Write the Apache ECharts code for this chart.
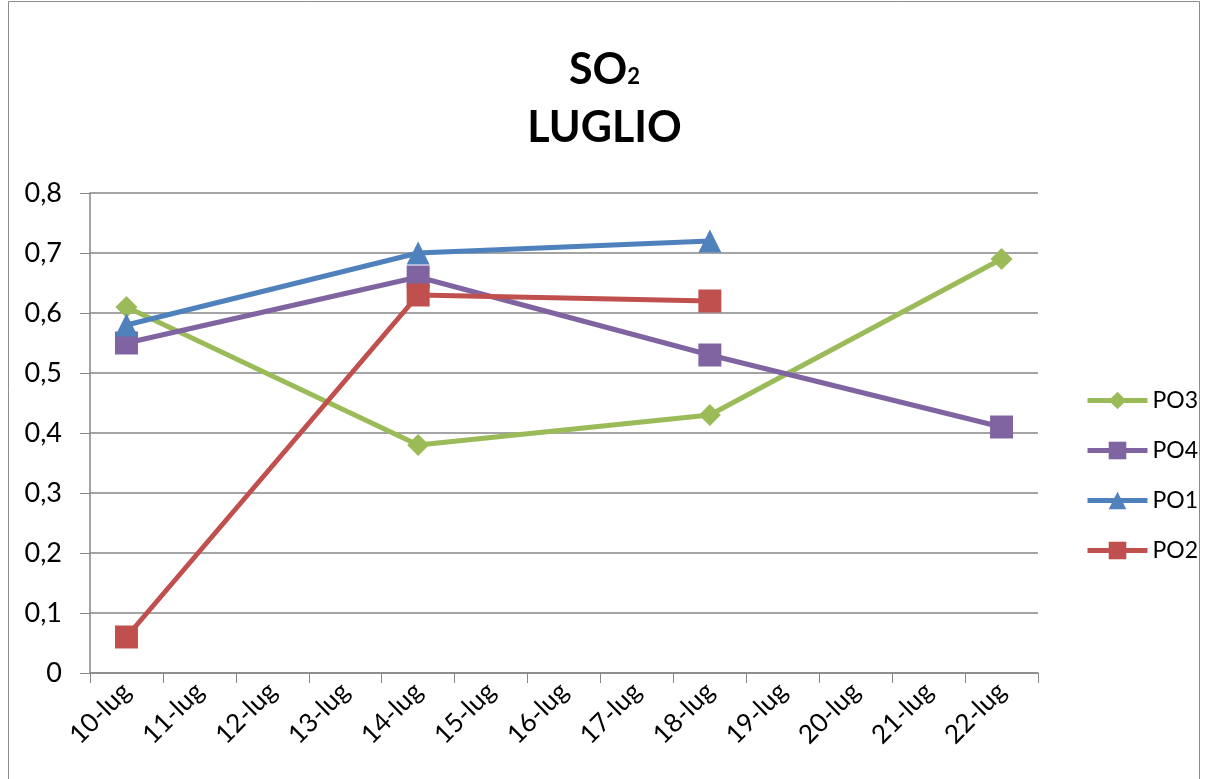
<!DOCTYPE html>
<html>
<head>
<meta charset="utf-8">
<style>
    html, body { margin: 0; padding: 0; background: #fff; }
    #chart { width: 1209px; height: 779px; }
</style>
<script src="https://cdn.jsdelivr.net/npm/echarts@6/dist/echarts.min.js"></script>
</head>
<body>
<div id="chart"></div>
<script>
// dati
const days = ["10-lug", "11-lug", "12-lug", "13-lug", "14-lug", "15-lug", "16-lug",
    "17-lug", "18-lug", "19-lug", "20-lug", "21-lug", "22-lug"];
const po3 = [0.61, null, null, null, 0.38, null, null, null, 0.43, null, null, null, 0.69];
const po4 = [0.55, null, null, null, 0.66, null, null, null, 0.53, null, null, null, 0.41];
const po1 = [0.58, null, null, null, 0.70, null, null, null, 0.72, null, null, null, null];
const po2 = [0.06, null, null, null, 0.63, null, null, null, 0.62, null, null, null, null];

const font = "Lato";

function line(name, data, color, symbol, size) {
    return {
        name: name,
        type: "line",
        data: data,
        connectNulls: true,
        symbol: symbol,
        symbolSize: size,
        lineStyle: { color: color, width: 5 },
        itemStyle: { color: color },
        emphasis: { disabled: true },
        animation: false,
    };
}

const chart = echarts.init(document.getElementById("chart"));
chart.setOption({
    backgroundColor: "#fff",
    graphic: [{
        type: "rect",
        shape: { x: 8.5, y: 1.5, width: 1191, height: 790 },
        style: { fill: "none", stroke: "#8c8c8c", lineWidth: 1 },
        silent: true,
    }],
    title: {
        text: "{a|SO}{b|2}\n{a|LUGLIO}",
        left: "center",
        top: 36,
        textStyle: {
            rich: {
                a: { fontFamily: font, fontWeight: "bold", fontSize: 43, color: "#000", lineHeight: 58 },
                b: { fontFamily: font, fontWeight: "bold", fontSize: 22, color: "#000", verticalAlign: "middle", lineHeight: 58, padding: [14, 0, 0, 0] },
            },
        },
    },
    legend: {
        orient: "vertical",
        left: 1080,
        top: 384,
        itemWidth: 60,
        itemHeight: 22,
        itemGap: 27,
        lineStyle: { width: 5 },
        textStyle: { fontFamily: font, fontSize: 23, color: "#000" },
        data: ["PO3", "PO4", "PO1", "PO2"],
    },
    grid: {
        left: 90,
        right: 171,
        top: 193,
        bottom: 106,
    },
    xAxis: {
        type: "category",
        data: days,
        boundaryGap: true,
        axisLine: { lineStyle: { color: "#868686", width: 1.5 } },
        axisTick: { show: true, interval: 0, length: 10, lineStyle: { color: "#868686" } },
        axisLabel: {
            interval: 0,
            rotate: 45,
            fontFamily: font,
            fontSize: 26,
            color: "#000",
            margin: 14,
        },
    },
    yAxis: {
        type: "value",
        min: 0,
        max: 0.8,
        interval: 0.1,
        axisLine: { show: true, lineStyle: { color: "#868686", width: 1.5 } },
        axisTick: { show: true, length: 10, lineStyle: { color: "#868686" } },
        splitLine: { lineStyle: { color: "#868686", width: 1.5 } },
        axisLabel: {
            fontFamily: font,
            fontSize: 27,
            color: "#000",
            margin: 28,
            formatter: function (v) {
                return v === 0 ? "0" : v.toFixed(1).replace(".", ",");
            },
        },
    },
    series: [
        line("PO3", po3, "#9BBB59", "diamond", 22),
        line("PO4", po4, "#8064A2", "rect", 23),
        line("PO1", po1, "#4F81BD", "triangle", 23),
        line("PO2", po2, "#C0504D", "rect", 23),
    ],
});
</script>
</body>
</html>
